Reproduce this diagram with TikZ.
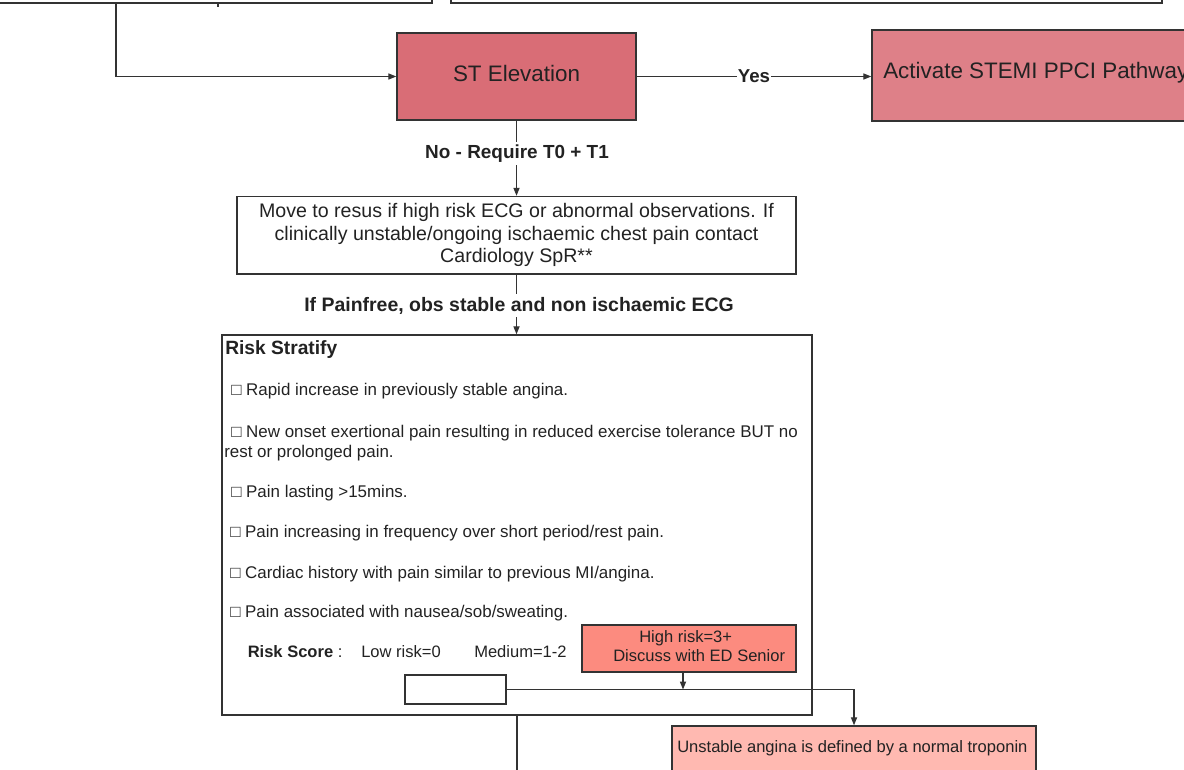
\documentclass[tikz,border=0pt]{standalone}
\usepackage{fontspec}
\setmainfont{Liberation Sans}
\usetikzlibrary{arrows.meta,fit}
\definecolor{stemi}{HTML}{D96D76}
\definecolor{ppci}{HTML}{DE8088}
\definecolor{highrisk}{HTML}{FC8B7F}
\definecolor{unstable}{HTML}{FFB9B1}
\definecolor{ink}{HTML}{222222}
\definecolor{edge}{HTML}{333333}

\begin{document}
\begin{tikzpicture}[x=0.75pt,y=-0.75pt,
  box/.style={draw=edge, line width=1.05pt, inner sep=0pt},
  flow/.style={draw=edge, line width=0.9pt},
  arr/.style={flow, -{Triangle[length=6pt,width=4.6pt]}},
  txt/.style={anchor=base west, inner sep=0pt, text=ink},
  ctxt/.style={anchor=base, inner sep=0pt, text=ink},
  fbig/.style={font=\fontsize{16.8}{19}\selectfont},
  fmid/.style={font=\fontsize{14.7}{17}\selectfont},
  fbold/.style={font=\fontsize{14.6}{17}\selectfont\bfseries},
  fsmall/.style={font=\fontsize{12.4}{15}\selectfont},
  fitem/.style={font=\fontsize{12.7}{15}\selectfont},
  lbl/.style={ctxt, fill=white, inner sep=2pt}]

\useasboundingbox (0,0) rectangle (1184,770);
\clip (0,0) rectangle (1184,770);

% boxes of the previous step, above the frame
\node[box, fit={(-10,-40) (432,3)}] (topL) {};
\node[box, fit={(451,-40) (1162,3)}] (topR) {};
\coordinate (tlout) at (116,3);
\coordinate (tick) at (218,3);
\draw[flow] (tick) -- (218,7);

% ST elevation decision
\node[box, fill=stemi, fit={(397,33) (636,120)}] (st) {};
\node[ctxt, fbig] (stT) at (516.5,82) {ST Elevation};
\node[box, fill=ppci, fit={(872,30) (1220,121)}] (ppci) {};
\node[txt, fbig] (ppciT) at (883,79) {Activate STEMI PPCI Pathway};

\draw[arr] (tlout) |- (st.west);
\draw[arr] (st.east) -- (st.east -| ppci.west)
  node[ctxt, pos=0.5, font=\fontsize{14}{16}\selectfont\bfseries, fill=white, inner sep=1pt, yshift=-4.2pt] (yes) {Yes};

% no ST elevation
\node[box, fit={(237,196.5) (796,274)}] (resus) {};
\node[ctxt, fmid] (r1) at (516.5,217) {Move to resus if high risk ECG or abnormal observations. If};
\node[ctxt, fmid] (r2) at (516.5,240) {clinically unstable/ongoing ischaemic chest pain contact};
\node[ctxt, fmid] (r3) at (516.5,262) {Cardiology SpR**};

\draw[arr] (st.south) -- (resus.north);
\node[lbl, font=\fontsize{14.2}{17}\selectfont\bfseries] (noT) at (517,158) {No - Require T0 + T1};

% risk stratification panel
\node[box, fit={(222,335) (812,715)}] (risk) {};
\draw[arr] (resus.south) -- (resus.south |- risk.north);
\node[lbl, fbold] (painfree) at (519,311) {If Painfree, obs stable and non ischaemic ECG};

\node[txt, font=\fontsize{14.4}{17}\selectfont\bfseries] (rsT) at (225,354) {Risk Stratify};
\node[txt, fitem] (i1) at (231,395) {□ Rapid increase in previously stable angina.};
\node[txt, fitem] (i2) at (231,437) {□ New onset exertional pain resulting in reduced exercise tolerance BUT no};
\node[txt, fitem] (i2b) at (224,457) {rest or prolonged pain.};
\node[txt, fitem] (i3) at (231,497) {□ Pain lasting >15mins.};
\node[txt, fitem] (i4) at (230,537) {□ Pain increasing in frequency over short period/rest pain.};
\node[txt, fitem] (i5) at (230,578) {□ Cardiac history with pain similar to previous MI/angina.};
\node[txt, fitem] (i6) at (230,617) {□ Pain associated with nausea/sob/sweating.};

\node[txt, fsmall] (score) at (247.5,657) {\textbf{Risk Score} :};
\node[txt, fsmall] (low) at (361,657) {Low risk=0};
\node[txt, fsmall] (med) at (474,657) {Medium=1-2};

\node[box, fill=highrisk, fit={(582,625) (796,672)}] (high) {};
\node[txt, fsmall] (h1) at (639,642) {High risk=3+};
\node[txt, fsmall] (h2) at (613,661) {Discuss with ED Senior};

\node[box, fill=white, fit={(405,675) (506,704)}] (small) {};

% outcome
\node[box, fill=unstable, fit={(672,726) (1036,800)}] (unst) {};
\node[txt, fsmall] (uT) at (677,752.5) {Unstable angina is defined by a normal troponin};

\coordinate (join) at (683,689.5);
\draw[arr] (high.south -| join) -- (join);
\draw[arr] (small.east) -| (unst.north);
\draw[flow] (risk.south) -- ++(0,80);
\end{tikzpicture}
\end{document}
